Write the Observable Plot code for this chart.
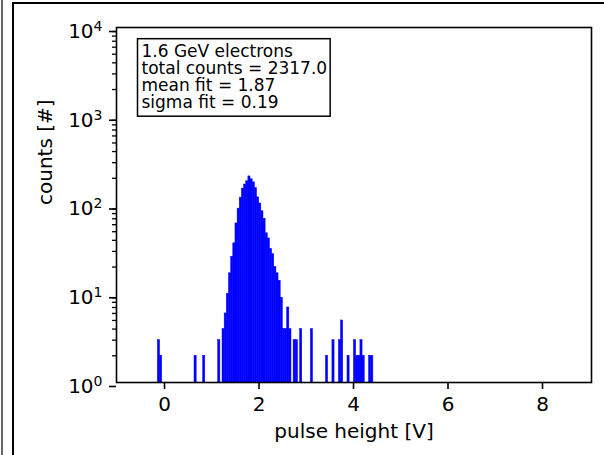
<!DOCTYPE html>
<html><head><meta charset="utf-8">
<script src="https://cdn.jsdelivr.net/npm/d3@7"></script>
<script src="https://cdn.jsdelivr.net/npm/@observablehq/plot@0.6"></script>
<style>
html,body{margin:0;padding:0;background:#fff;overflow:hidden;}
#wrap{position:relative;width:604px;height:455px;}
#wrap svg{position:absolute;left:0;top:0;}
.bl1{position:absolute;left:1px;top:0;width:2px;height:455px;background:#666;}
.bl2{position:absolute;left:12px;top:2px;width:2px;height:453px;background:#000;}
.bt{position:absolute;left:12px;top:2px;width:592px;height:2px;background:#000;}
</style></head><body><div id="wrap"><div class="bl1"></div><div class="bl2"></div><div class="bt"></div></div>
<script>
// histogram: uniform bins starting at binStart, width binWidth
const binStart = -0.14;
const binWidth = 0.0456;
const counts = [
  3,2,0,0,0,0,0,0,0,0,
  0,0,0,0,0,0,0,2,0,0,
  0,2,0,0,0,0,0,0,3,0,
  4,6,10,17,26,37,62,91,121,153,
  170,185,210,195,180,155,122,104,85,70,
  48,42,32,28,20,17,14,9,4,4,
  7,4,1,3,3,1,4,0,0,0,
  0,4,0,0,0,0,0,0,2,0,
  0,3,0,0,3,5,0,0,2,0,
  0,3,2,2,3,2,0,0,2,2
];
const xTicks = [0, 2, 4, 6, 8];
const yTicks = [1, 10, 100, 1000, 10000];
const infoLines = ["1.6 GeV electrons", "total counts = 2317.0", "mean fit = 1.87", "sigma fit = 0.19"];
const xLabel = "pulse height [V]";
const yLabel = "counts [#]";

const bins = counts.map((c, i) => ({x1: binStart + i * binWidth, x2: binStart + (i + 1) * binWidth, count: c}))
  .filter(d => d.count > 0);
const minorTicks = [];
yTicks.slice(0, -1).forEach(d => { for (let k = 2; k <= 9; k++) minorTicks.push(d * k); });

const plot = Plot.plot({
  width: 604, height: 455,
  marginLeft: 116, marginRight: 13, marginTop: 27, marginBottom: 73,
  style: {fontFamily: "DejaVu Sans", fontSize: "20px", color: "#000", background: "transparent", overflow: "visible"},
  x: {domain: [-1.016, 9.037]},
  y: {type: "log", domain: [1, 10000]},
  marks: [
    Plot.rectY(bins, {x1: "x1", x2: "x2", y1: 1, y2: "count", fill: "#0000ff", stroke: "#0000ff", strokeWidth: 0.5, inset: 0}),
    Plot.axisY({ticks: minorTicks, tickSize: 4, tickFormat: () => "", strokeWidth: 1.3, label: null}),
    Plot.axisY({ticks: yTicks, tickSize: 7, tickPadding: 7, dy: 4, tickFormat: d => "10^" + Math.round(Math.log10(d)), fontSize: 20, strokeWidth: 1.6, label: null}),
    Plot.axisX({ticks: xTicks, tickSize: 7, tickPadding: 7, fontSize: 20, strokeWidth: 1.6, label: null}),
    Plot.frame({stroke: "#000", strokeWidth: 1.6}),
    Plot.text([yLabel], {text: d => d, frameAnchor: "left", dx: -71, rotate: -90, fontSize: 20}),
    Plot.text([xLabel], {text: d => d, frameAnchor: "bottom", dy: 55, fontSize: 20}),
    Plot.text([infoLines.join("\n")], {text: d => d, frameAnchor: "top-left", dx: 25, dy: 17, lineAnchor: "top", textAnchor: "start", fontSize: 17, lineHeight: 1.01})
  ]
});
document.getElementById("wrap").appendChild(plot);

// superscript exponents on y tick labels
d3.select(plot).selectAll("text").each(function() {
  const t = this.textContent;
  if (/^10\^\d$/.test(t)) {
    const [base, exp] = t.split("^");
    const sel = d3.select(this);
    sel.text(base);
    sel.append("tspan").attr("dy", "-0.5em").attr("font-size", "70%").text(exp);
  }
});

// box around the info text (inside the text group so it shares its transform)
d3.select(plot).selectAll("g[aria-label='text']").each(function() {
  if (this.textContent.includes("electrons")) {
    const bb = this.getBBox();
    d3.select(this).insert("rect", ":first-child")
      .attr("x", bb.x - 4).attr("y", bb.y - 2)
      .attr("width", bb.width + 7).attr("height", bb.height + 6)
      .attr("fill", "#fff").attr("stroke", "#000").attr("stroke-width", 1.5);
  }
});
</script>
</body></html>
